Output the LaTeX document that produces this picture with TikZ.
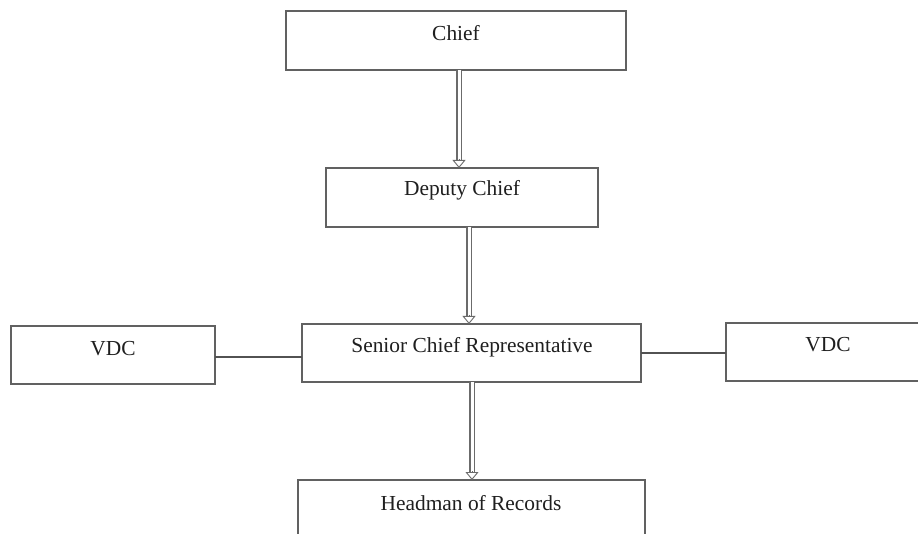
\documentclass[tikz,border=0pt]{standalone}
\usepackage{fontspec}
\setmainfont{Liberation Serif}
\usetikzlibrary{arrows.meta,calc}
\begin{document}
\begin{tikzpicture}[x=1pt,y=-1pt,
  box/.style={draw=black!62, line width=1.4pt, minimum width=#1, inner sep=0pt, outer sep=0pt},
  txt/.style={font=\fontsize{21.4}{25}\selectfont, text=black!88, inner sep=0pt},
  dbl/.style={draw=black!58, line width=1.1pt, double=white, double distance=3pt, shorten >=6pt},
  head/.style={draw=black!58, line width=0.9pt, -{Triangle[open,width=13pt,length=8pt,fill=white]}},
  link/.style={draw=black!68, line width=1.3pt}]
\clip (0,0) rectangle (918,534);
\fill[white] (0,0) rectangle (918,534);
% boxes
\node[box=340pt, minimum height=59pt] (chief) at (456,40.5) {};
\node[box=272pt, minimum height=59pt] (deputy) at (462,197.5) {};
\node[box=339pt, minimum height=58pt] (senior) at (471.5,353) {};
\node[box=204pt, minimum height=58pt] (vdcl) at (113,355) {};
\node[box=220pt, minimum height=58pt] (vdcr) at (836,352) {};
\node[box=347pt, minimum height=70pt] (head) at (471.5,515) {};
% texts
\node[txt] (tchief) at (456,33) {Chief};
\node[txt] (tdeputy) at (462,190) {Deputy Chief};
\node[txt] (tsenior) at (472,347) {Senior Chief Representative};
\node[txt] (tvdcl) at (113,349) {VDC};
\node[txt] (tvdcr) at (828,345) {VDC};
\node[txt] (thead) at (471,503) {Headman of Records};
% arrows
\coordinate (a1) at (459,0);
\coordinate (a2) at (469,0);
\coordinate (a3) at (472,0);
\draw[dbl] (chief.south -| a1) -- (deputy.north -| a1);
\draw[head] ($(deputy.north -| a1)+(0,-9)$) -- (deputy.north -| a1);
\draw[dbl] (deputy.south -| a2) -- (senior.north -| a2);
\draw[head] ($(senior.north -| a2)+(0,-9)$) -- (senior.north -| a2);
\draw[dbl] (senior.south -| a3) -- (head.north -| a3);
\draw[head] ($(head.north -| a3)+(0,-9)$) -- (head.north -| a3);
% links
\coordinate (l1) at (0,357);
\coordinate (l2) at (0,353);
\draw[link] (vdcl.east |- l1) -- (senior.west |- l1);
\draw[link] (senior.east |- l2) -- (vdcr.west |- l2);
\end{tikzpicture}
\end{document}
